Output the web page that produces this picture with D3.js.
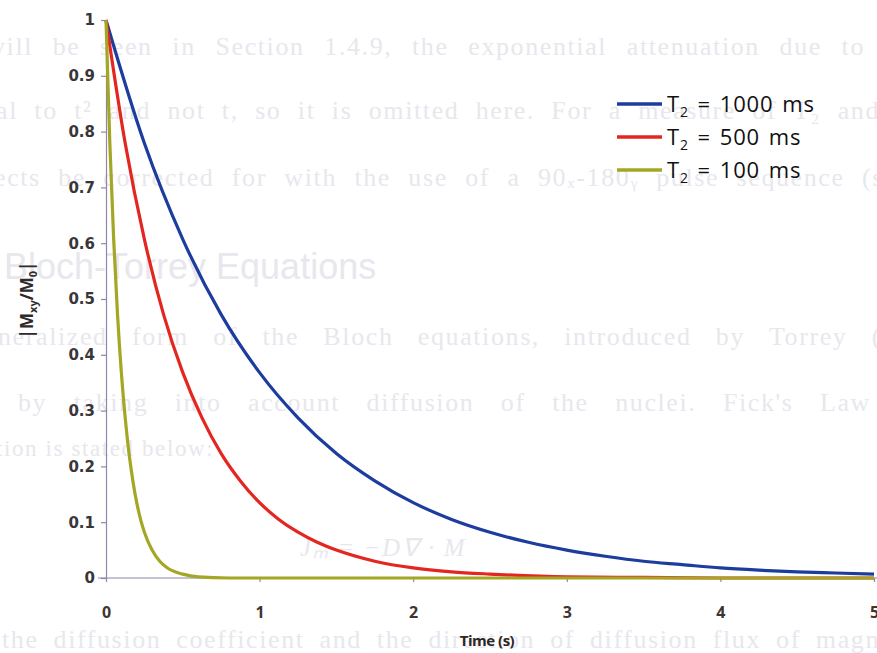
<!DOCTYPE html>
<html>
<head>
<meta charset="utf-8">
<script src="https://cdn.jsdelivr.net/npm/d3@7"></script>
<style>
  html, body { margin: 0; padding: 0; background: #ffffff; }
  svg { display: block; }
</style>
</head>
<body>
<svg id="chart" width="877" height="653"></svg>
<script>
// Transverse magnetisation decay |Mxy/M0| for three T2 values
const legendLabels = ["1000", "500", "100"];
const seriesColors = ["#1d3d9e", "#e3261f", "#a4a624"];

const timeT1000 = [0, 0.25, 0.5, 0.75, 1, 1.25, 1.5, 1.75, 2, 2.25, 2.5, 2.75, 3, 3.25, 3.5, 3.75, 4, 4.25, 4.5, 4.75, 5];
const valsT1000 = [1, 0.779, 0.607, 0.472, 0.368, 0.287, 0.223, 0.174, 0.135, 0.105, 0.082, 0.064, 0.050, 0.039, 0.030, 0.024, 0.018, 0.014, 0.011, 0.009, 0.007];

const timeT500 = [0, 0.125, 0.25, 0.375, 0.5, 0.625, 0.75, 0.875, 1, 1.125, 1.25, 1.375, 1.5, 1.75, 2, 2.25, 2.5, 3, 3.5, 4, 4.5, 5];
const valsT500 = [1, 0.779, 0.607, 0.472, 0.368, 0.287, 0.223, 0.174, 0.135, 0.105, 0.082, 0.064, 0.050, 0.030, 0.018, 0.011, 0.007, 0.002, 0.001, 0, 0, 0];

const timeT100 = [0, 0.025, 0.05, 0.075, 0.1, 0.125, 0.15, 0.175, 0.2, 0.225, 0.25, 0.3, 0.35, 0.4, 0.5, 0.6, 0.8, 1, 2, 3, 4, 5];
const valsT100 = [1, 0.779, 0.607, 0.472, 0.368, 0.287, 0.223, 0.174, 0.135, 0.105, 0.082, 0.050, 0.030, 0.018, 0.007, 0.002, 0, 0, 0, 0, 0, 0];

const xTicks = [0, 1, 2, 3, 4, 5];
const yTicks = [0, 0.1, 0.2, 0.3, 0.4, 0.5, 0.6, 0.7, 0.8, 0.9, 1];

// faint page text showing through from the other side of the sheet
const pageLines = [
  {t: "vill be seen in Section 1.4.9, the exponential attenuation due to", y: 55, x: -8, w: 873, s: 26, f: "Liberation Serif"},
  {t: "al to t\u00B2 and not t, so it is omitted here. For a measure of T\u2082 and", y: 119, x: -4, w: 884, s: 26, f: "Liberation Serif"},
  {t: "ects be corrected for with the use of a 90\u2093-180\u1D67 pulse sequence (s", y: 186, x: -6, w: 890, s: 26, f: "Liberation Serif"},
  {t: "Bloch-Torrey Equations", y: 279, x: 4, s: 36, f: "Liberation Sans"},
  {t: "neralized form of the Bloch equations, introduced by Torrey (", y: 345, x: -2, w: 884, s: 26, f: "Liberation Serif"},
  {t: "by taking into account diffusion of the nuclei. Fick's Law", y: 411, x: 18, w: 853, s: 26, f: "Liberation Serif"},
  {t: "tion is stated below:", y: 456, x: -4, s: 23, f: "Liberation Serif"},
  {t: "J\u2098 = \u2212D\u2207 \u00B7 M", y: 556, x: 300, s: 25, f: "Liberation Serif", it: true},
  {t: "the diffusion coefficient and the direction of diffusion flux of magnet", y: 648, x: 2, w: 900, s: 26, f: "Liberation Serif"}
];

const svg = d3.select("#chart");

const ghost = svg.append("g").attr("fill", "#e7e7ed");
pageLines.forEach(l => {
  const node = ghost.append("text")
    .attr("x", l.x).attr("y", l.y)
    .attr("font-family", l.f)
    .attr("font-size", l.s)
    .attr("letter-spacing", l.f === "Liberation Serif" ? 1.6 : 0)
    .attr("font-style", l.it ? "italic" : "normal")
    .text(l.t);
  if (l.w) {
    // justify the line by widening the gaps between words
    const natural = node.node().getComputedTextLength();
    const gaps = (l.t.match(/ /g) || []).length;
    if (gaps > 0) node.attr("word-spacing", Math.max(0, (l.w - natural) / gaps));
  }
});

const x = d3.scaleLinear().domain([0, 5]).range([106, 874]);
const y = d3.scaleLinear().domain([0, 1]).range([578, 20]);

const axisColor = "#8f86a8";

// y axis
const yAxis = svg.append("g")
  .attr("transform", `translate(${x(0)},0)`)
  .call(d3.axisLeft(y).tickValues(yTicks).tickSize(5).tickPadding(6)
    .tickFormat(d => d === 0 || d === 1 ? d3.format("d")(d) : d3.format(".1f")(d)));
yAxis.select(".domain").attr("stroke", axisColor).attr("stroke-width", 1.2);
yAxis.selectAll(".tick line").attr("stroke", axisColor).attr("stroke-width", 1.2);
yAxis.selectAll(".tick text")
  .attr("font-family", "DejaVu Sans").attr("font-weight", "bold")
  .attr("font-size", 15).attr("fill", "#3a3638");

// x axis
const xAxis = svg.append("g")
  .attr("transform", `translate(0,${y(0)})`)
  .call(d3.axisBottom(x).tickValues(xTicks).tickSize(4).tickPadding(25).tickFormat(d3.format("d")));
xAxis.select(".domain").attr("stroke", axisColor).attr("stroke-width", 1.2)
  .attr("d", `M${x(0) - 8},0H${x(5) + 4}`);
xAxis.selectAll(".tick line").attr("stroke", axisColor).attr("stroke-width", 1.2);
xAxis.selectAll(".tick text")
  .attr("font-family", "Open Sans").attr("font-weight", "bold")
  .attr("font-size", 16).attr("fill", "#3e3430");

// axis titles
svg.append("text")
  .attr("x", 487).attr("y", 646)
  .attr("text-anchor", "middle")
  .attr("font-family", "Open Sans").attr("font-weight", "bold")
  .attr("font-size", 15).attr("fill", "#2e2624")
  .attr("letter-spacing", -0.5)
  .text("Time (s)");

const yl = svg.append("text")
  .attr("transform", "translate(33,300) rotate(-90)")
  .attr("text-anchor", "middle")
  .attr("font-family", "Open Sans").attr("font-weight", "bold")
  .attr("font-size", 17).attr("fill", "#2e2a2a");
yl.append("tspan").text("|M");
yl.append("tspan").attr("font-size", 11).attr("dy", 4).text("xy");
yl.append("tspan").attr("dy", -4).text("/M");
yl.append("tspan").attr("font-size", 11).attr("dy", 4).text("0");
yl.append("tspan").attr("dy", -4).text("|");

// curves
const series = [
  {t: timeT1000, v: valsT1000},
  {t: timeT500, v: valsT500},
  {t: timeT100, v: valsT100}
];
const line = d3.line().curve(d3.curveMonotoneX);
series.forEach((s, i) => {
  const pts = s.t.map((t, k) => [x(t), y(s.v[k])]);
  svg.append("path")
    .attr("d", line(pts))
    .attr("fill", "none")
    .attr("stroke", seriesColors[i])
    .attr("stroke-width", 3.2)
    .attr("stroke-linejoin", "round");
});

// legend
const legend = svg.append("g");
legendLabels.forEach((lab, i) => {
  const ly = 104 + i * 33;
  legend.append("line")
    .attr("x1", 617).attr("x2", 662).attr("y1", ly).attr("y2", ly)
    .attr("stroke", seriesColors[i]).attr("stroke-width", 3.5);
  const t = legend.append("text")
    .attr("x", 667).attr("y", ly + 8)
    .attr("font-family", "Open Sans").attr("font-size", 22)
    .attr("letter-spacing", 0.9).attr("fill", "#111");
  t.append("tspan").text("T");
  t.append("tspan").attr("font-size", 14).attr("dy", 5).text("2");
  t.append("tspan").attr("dy", -5).attr("word-spacing", 2).text(" = " + lab + " ms");
});
</script>
</body>
</html>
